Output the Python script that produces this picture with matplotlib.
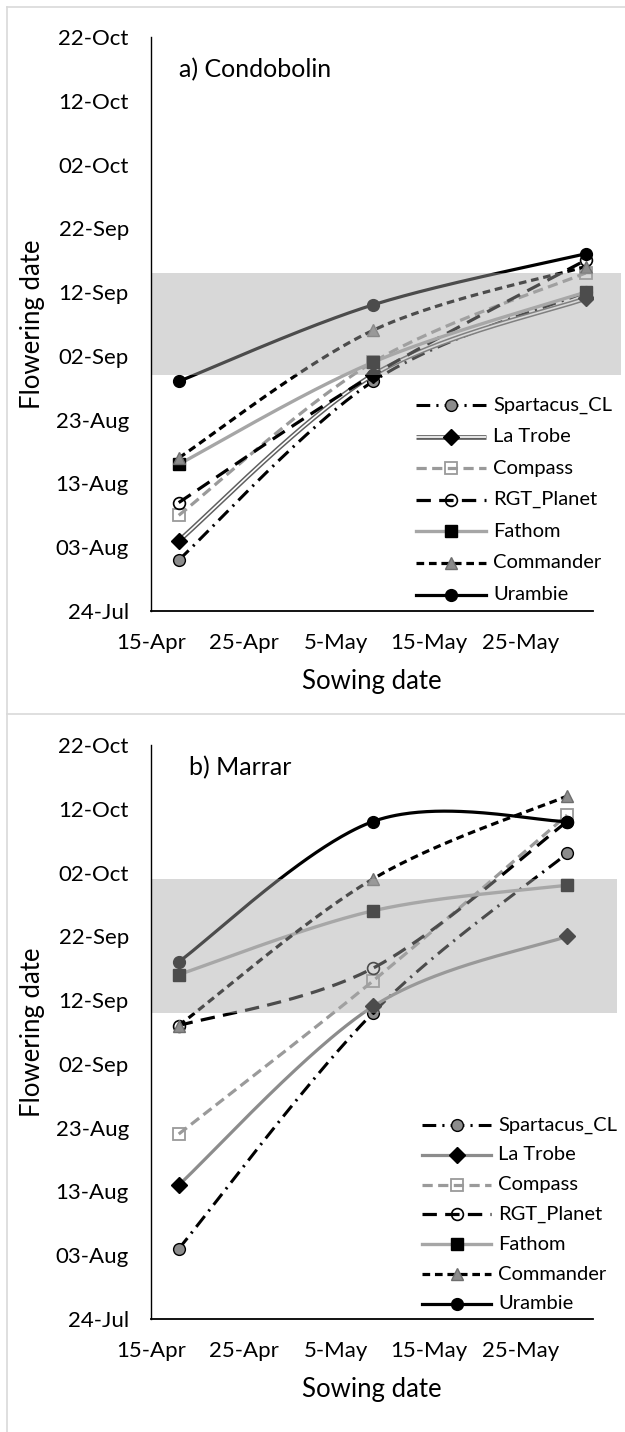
import datetime as dt
import numpy as np
import matplotlib
matplotlib.use("Agg")
import matplotlib.pyplot as plt
from matplotlib import patheffects as pe
from matplotlib.lines import Line2D
from matplotlib.patches import Rectangle

plt.rcParams["font.family"] = ["Lato", "DejaVu Sans"]

# ---------------- data ----------------
varieties = ["Spartacus_CL", "La Trobe", "Compass", "RGT_Planet",
             "Fathom", "Commander", "Urambie"]

sow_condobolin = ["18-Apr", "9-May", "1-Jun"]
flower_condobolin = {
    "Spartacus_CL": ["1-Aug", "29-Aug", "12-Sep"],
    "La Trobe":     ["4-Aug", "30-Aug", "11-Sep"],
    "Compass":      ["8-Aug", "1-Sep", "15-Sep"],
    "RGT_Planet":   ["10-Aug", "30-Aug", "17-Sep"],
    "Fathom":       ["16-Aug", "1-Sep", "12-Sep"],
    "Commander":    ["17-Aug", "6-Sep", "16-Sep"],
    "Urambie":      ["29-Aug", "10-Sep", "18-Sep"],
}
window_condobolin = ["30-Aug", "15-Sep"]

sow_marrar = ["18-Apr", "9-May", "30-May"]
flower_marrar = {
    "Spartacus_CL": ["4-Aug", "10-Sep", "5-Oct"],
    "La Trobe":     ["14-Aug", "11-Sep", "22-Sep"],
    "Compass":      ["22-Aug", "15-Sep", "11-Oct"],
    "RGT_Planet":   ["8-Sep", "17-Sep", "10-Oct"],
    "Fathom":       ["16-Sep", "26-Sep", "30-Sep"],
    "Commander":    ["8-Sep", "1-Oct", "14-Oct"],
    "Urambie":      ["18-Sep", "10-Oct", "10-Oct"],
}
window_marrar = ["10-Sep", "1-Oct"]

x_ticklabels = ["15-Apr", "25-Apr", "5-May", "15-May", "25-May"]
y_ticklabels = ["24-Jul", "03-Aug", "13-Aug", "23-Aug", "02-Sep",
                "12-Sep", "22-Sep", "02-Oct", "12-Oct", "22-Oct"]


def doy(s):
    return dt.datetime.strptime(s + "-2019", "%d-%b-%Y").timetuple().tm_yday


def smooth(xs, ys, n=80):
    """Smoothed line through the points (cubic Bezier, Catmull-Rom tangents)."""
    P = np.column_stack([xs, ys]).astype(float)
    pts = np.vstack([P[0], P, P[-1]])
    t = np.linspace(0, 1, n)[:, None]
    segs = []
    for i in range(1, len(pts) - 2):
        p0, p1, p2, p3 = pts[i - 1], pts[i], pts[i + 1], pts[i + 2]
        c1 = p1 + (p2 - p0) / 6.0
        c2 = p2 - (p3 - p1) / 6.0
        segs.append((1 - t) ** 3 * p1 + 3 * (1 - t) ** 2 * t * c1
                    + 3 * (1 - t) * t ** 2 * c2 + t ** 3 * p2)
    c = np.vstack(segs)
    return c[:, 0], c[:, 1]


# ---------------- styles ----------------
double_fx = [pe.Stroke(linewidth=3.4, foreground="#5f5f5f"), pe.Normal()]

line_styles = {
    "Spartacus_CL": dict(color="black", ls=(0, (4.5, 2.0, 0.7, 2.0)), lw=2.2),
    "La Trobe":     dict(color="#8c8c8c", ls="-", lw=2.3),
    "Compass":      dict(color="#9a9a9a", ls=(0, (3.2, 1.7)), lw=2.3),
    "RGT_Planet":   dict(color="black", ls=(0, (4.5, 2.6)), lw=2.3),
    "Fathom":       dict(color="#a6a6a6", ls="-", lw=2.4),
    "Commander":    dict(color="black", ls=(0, (2.4, 1.5)), lw=2.3),
    "Urambie":      dict(color="black", ls="-", lw=2.3),
}
marker_styles = {
    "Spartacus_CL": dict(marker="o", ms=8.5, mfc="#8c8c8c", mec="black", mew=1.0),
    "La Trobe":     dict(marker="D", ms=8, mfc="black", mec="black", mew=1.0),
    "Compass":      dict(marker="s", ms=8, mfc="none", mec="#9a9a9a", mew=1.3),
    "RGT_Planet":   dict(marker="o", ms=8.5, mfc="none", mec="black", mew=1.2),
    "Fathom":       dict(marker="s", ms=8, mfc="black", mec="black", mew=1.0),
    "Commander":    dict(marker="^", ms=8.5, mfc="#8c8c8c", mec="#6e6e6e", mew=1.0),
    "Urambie":      dict(marker="o", ms=8.5, mfc="black", mec="black", mew=1.0),
}

W, H = 625, 1432
fig = plt.figure(figsize=(W / 100, H / 100), dpi=100)

AX_L, AX_R = 151, 593
X0 = doy("15-Apr")
X1 = X0 + 47.8
Y0, Y1 = doy("24-Jul"), doy("22-Oct")


def px_axes(top, bottom):
    return fig.add_axes([AX_L / W, 1 - bottom / H, (AX_R - AX_L) / W, (bottom - top) / H])


panels = [
    dict(top=37, bottom=611, sow=sow_condobolin, flw=flower_condobolin,
         win=window_condobolin, title="a) Condobolin", title_xy=(179, 70),
         band_right=621, double=True, leg_y0=405, leg_dy=31.6, leg_x=(416, 486, 493),
         xlabel_y=681),
    dict(top=745, bottom=1319, sow=sow_marrar, flw=flower_marrar,
         win=window_marrar, title="b) Marrar", title_xy=(189, 768),
         band_right=617, double=False, leg_y0=1125, leg_dy=29.8, leg_x=(422, 491, 498),
         xlabel_y=1390),
]

for p in panels:
    top, bottom = p["top"], p["bottom"]
    ax = px_axes(top, bottom)
    ax.set_xlim(X0, X1)
    ax.set_ylim(Y0, Y1)
    hpx = bottom - top

    def to_ax(px, py):
        return (px - AX_L) / (AX_R - AX_L), (bottom - py) / hpx

    xs = [doy(s) for s in p["sow"]]
    for k, name in enumerate(varieties):
        ys = [doy(s) for s in p["flw"][name]]
        cx, cy = smooth(xs, ys)
        st = dict(line_styles[name])
        z = 2 + k * 0.1
        if name == "La Trobe" and p["double"]:
            ax.plot(cx, cy, color="white", lw=1.2, ls="-", path_effects=double_fx,
                    zorder=z, solid_capstyle="butt")
        else:
            ax.plot(cx, cy, color=st["color"], ls=st["ls"], lw=st["lw"], zorder=z,
                    dash_capstyle="butt")
        ax.plot(xs, ys, ls="none", zorder=z + 0.05, **marker_styles[name])

    # flowering window overlay (semi-transparent, drawn above the series)
    lo, hi = doy(p["win"][0]), doy(p["win"][1])
    y_lo = (lo - Y0) / (Y1 - Y0)
    y_hi = (hi - Y0) / (Y1 - Y0)
    xr = (p["band_right"] - AX_L) / (AX_R - AX_L)
    ax.add_patch(Rectangle((0, y_lo), xr, y_hi - y_lo, transform=ax.transAxes,
                           facecolor="#a9a9a9", alpha=0.45, edgecolor="none",
                           zorder=6, clip_on=False))

    # axes cosmetics
    for s in ("top", "right"):
        ax.spines[s].set_visible(False)
    ax.spines["left"].set_linewidth(1.0)
    ax.spines["bottom"].set_linewidth(1.3)
    for s in ("left", "bottom"):
        ax.spines[s].set_zorder(10)
    ax.set_xticks([doy(s) for s in x_ticklabels])
    ax.set_xticklabels(x_ticklabels)
    ax.set_yticks([doy(s) for s in y_ticklabels])
    ax.set_yticklabels(y_ticklabels)
    ax.tick_params(axis="both", length=0, labelsize=16)
    ax.tick_params(axis="y", pad=16)
    ax.tick_params(axis="x", pad=16)
    ax.set_facecolor("none")

    tx, ty = to_ax(*p["title_xy"])
    ax.text(tx, ty, p["title"], transform=ax.transAxes, ha="left", va="center",
            fontsize=18)

    fig.text(372 / W, 1 - p["xlabel_y"] / H, "Sowing date", ha="center", va="center",
             fontsize=18.5)
    fig.text(33 / W, 1 - ((top + bottom) / 2) / H, "Flowering date", ha="center",
             va="center", rotation=90, fontsize=18.5)

    # legend
    lx0, lx1, ltx = p["leg_x"]
    for k, name in enumerate(varieties):
        py = p["leg_y0"] + k * p["leg_dy"]
        (a0, yy), (a1, _) = to_ax(lx0, py), to_ax(lx1, py)
        st = line_styles[name]
        if name == "La Trobe" and p["double"]:
            ax.plot([a0, a1], [yy, yy], transform=ax.transAxes, clip_on=False,
                    color="white", lw=1.2, path_effects=double_fx, zorder=8,
                    solid_capstyle="butt")
        else:
            ax.plot([a0, a1], [yy, yy], transform=ax.transAxes, clip_on=False,
                    color=st["color"], ls=st["ls"], lw=st["lw"], zorder=8,
                    dash_capstyle="butt")
        ax.plot([(a0 + a1) / 2], [yy], transform=ax.transAxes, clip_on=False,
                ls="none", zorder=8.5, **marker_styles[name])
        tx_, _ = to_ax(ltx, py)
        ax.text(tx_, yy, name, transform=ax.transAxes, ha="left", va="center",
                fontsize=14.5, zorder=9, clip_on=False)

# panel frames
frame = dict(color="#d9d9d9", lw=1.2, transform=fig.transFigure)
fig.add_artist(Line2D([7 / W, 1], [1 - 7 / H, 1 - 7 / H], **frame))
fig.add_artist(Line2D([7 / W, 7 / W], [1 - 7 / H, 0], **frame))
fig.add_artist(Line2D([7 / W, 1], [1 - 714 / H, 1 - 714 / H], **frame))

fig.savefig("out.png", dpi=100)
